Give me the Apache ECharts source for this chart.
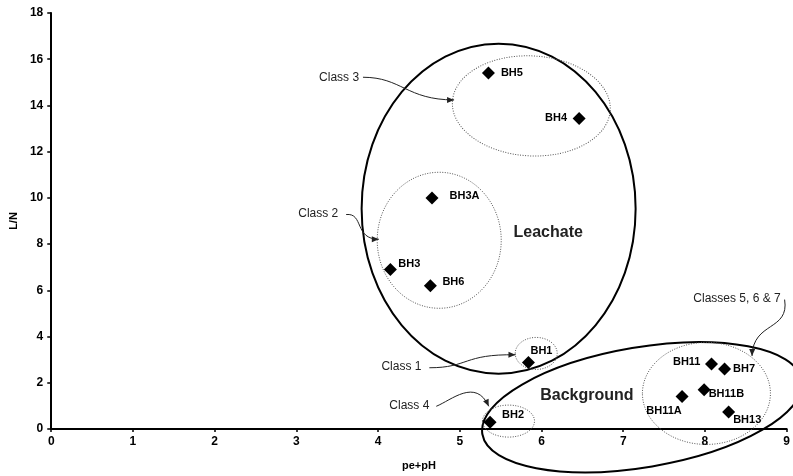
<!DOCTYPE html>
<html>
<head>
<meta charset="utf-8">
<script src="https://cdn.jsdelivr.net/npm/echarts@6/dist/echarts.min.js"></script>
<style>
html,body{margin:0;padding:0;background:#fff;}
#chart{width:793px;height:476px;}
</style>
</head>
<body>
<div id="chart"></div>
<script>
// ---- data ----
const pointNames = ['BH5','BH4','BH3A','BH3','BH6','BH1','BH2','BH11','BH7','BH11B','BH11A','BH13'];
const pePH       = [5.35, 6.46, 4.66, 4.15, 4.64, 5.84, 5.37, 8.08, 8.24, 7.99, 7.72, 8.29];
const lnRatio    = [15.40,13.44, 9.99, 6.90, 6.20, 2.88, 0.29, 2.81, 2.60, 1.70, 1.41, 0.74];
const xTicks = [0,1,2,3,4,5,6,7,8,9];
const yTicks = [0,2,4,6,8,10,12,14,16,18];

// ---- label placement (style, not data) ----
const labelPlace = {
  BH5:['right',[6,0]], BH4:['left',[-5.5,0]], BH3A:['right',[11,-2]], BH3:['right',[1.5,-6]],
  BH6:['right',[5.5,-4]], BH1:['right',[-4.5,-11.5]], BH2:['right',[5.5,-7]], BH11:['left',[-4.5,-2]],
  BH7:['right',[2,0]], BH11B:['right',[-2,4]], BH11A:['bottom',[-18,3]], BH13:['right',[-2,8]]
};

const FONT = '"Liberation Sans", Arial, sans-serif';

const chart = echarts.init(document.getElementById('chart'), null, {renderer:'canvas'});

const seriesData = pointNames.map((n,i)=>{
  const lp = labelPlace[n];
  return {
    name:n, value:[pePH[i], lnRatio[i]],
    label:{show:true, formatter:n, position:lp[0], distance:0, offset:lp[1]}
  };
});

const option = {
  animation:false,
  backgroundColor:'#fff',
  grid:{left:46, right:4, top:13, bottom:42, containLabel:false},
  xAxis:{
    type:'value', min:xTicks[0], max:xTicks[xTicks.length-1], interval:1,
    name:'pe+pH', nameLocation:'middle', nameGap:31,
    nameTextStyle:{fontFamily:FONT, fontWeight:'bold', fontSize:11, color:'#000'},
    axisLine:{show:true, onZero:false, lineStyle:{color:'#000', width:2}},
    axisTick:{show:true, length:3, lineStyle:{color:'#000', width:1.5}},
    axisLabel:{fontFamily:FONT, fontWeight:'bold', fontSize:12, color:'#000', margin:7},
    splitLine:{show:false}
  },
  yAxis:{
    type:'value', min:yTicks[0], max:yTicks[yTicks.length-1], interval:2,
    name:'L/N', nameLocation:'middle', nameGap:29, nameRotate:90,
    nameTextStyle:{fontFamily:FONT, fontWeight:'bold', fontSize:11, color:'#000'},
    axisLine:{show:true, onZero:false, lineStyle:{color:'#000', width:2}},
    axisTick:{show:true, length:4, lineStyle:{color:'#000', width:1.5}},
    axisLabel:{fontFamily:FONT, fontWeight:'bold', fontSize:12, color:'#000', margin:8},
    splitLine:{show:false}
  },
  series:[{
    type:'scatter', symbol:'diamond', symbolSize:13, z:5,
    itemStyle:{color:'#000', opacity:1},
    label:{fontFamily:FONT, fontWeight:'bold', fontSize:11, color:'#000'},
    data:seriesData
  }]
};
chart.setOption(option);

// ---- annotations (centres in data units, radii in px) ----
const ellipses = [
  {c:[5.475, 9.534], rx:137, ry:165, rot:0, solid:true},    // Leachate
  {c:[7.231, 0.941], rx:162, ry:60, rot:9.6, solid:true},   // Background
  {c:[5.875,13.98], rx:79, ry:50, rot:-3, solid:false},     // Class 3
  {c:[4.748, 8.166], rx:62, ry:68, rot:0, solid:false},     // Class 2
  {c:[5.935, 3.27], rx:21, ry:16, rot:0, solid:false},      // Class 1
  {c:[5.596, 0.342], rx:26, ry:16, rot:0, solid:false},     // Class 4
  {c:[8.018, 1.539], rx:64, ry:51, rot:0, solid:false}      // Classes 5,6,7
];
const arrows = [
  [[3.815,15.22],[4.288,15.22],[4.348,14.24],[4.930,14.24]],
  [[3.609,9.28],[3.827,9.36],[3.706,8.21],[4.009,8.21]],
  [[4.627,2.65],[5.111,2.65],[5.039,3.25],[5.681,3.21]],
  [[4.712,0.983],[4.893,1.24],[5.196,2.223],[5.354,0.983]],
  [[8.975,5.60],[9.036,4.23],[8.588,4.66],[8.576,3.16]]
];
const notes = [
  {t:'Class 3', p:[3.767,15.22], align:'right', size:12, bold:false},
  {t:'Class 2', p:[3.512,9.32], align:'right', size:12, bold:false},
  {t:'Class 1', p:[4.530,2.68], align:'right', size:12, bold:false},
  {t:'Class 4', p:[4.627,1.026], align:'right', size:12, bold:false},
  {t:'Classes 5, 6 & 7', p:[8.927,5.64], align:'right', size:12, bold:false},
  {t:'Leachate', p:[5.657,8.51], align:'left', size:16, bold:true},
  {t:'Background', p:[5.984,1.424], align:'left', size:16, bold:true}
];

const px = p => chart.convertToPixel({gridIndex:0}, p);
const graphics = [];
ellipses.forEach(e=>{
  const c = px(e.c);
  graphics.push({
    type:'ellipse', x:c[0], y:c[1], rotation:e.rot*Math.PI/180, z:3, silent:true,
    shape:{cx:0, cy:0, rx:e.rx, ry:e.ry},
    style:{fill:null, stroke:e.solid?'#000':'#555', lineWidth:e.solid?2:1,
           lineDash:e.solid?null:[1,1.5]}
  });
});
arrows.forEach(a=>{
  const P = a.map(px);
  graphics.push({
    type:'bezierCurve', z:3, silent:true,
    shape:{x1:P[0][0], y1:P[0][1], cpx1:P[1][0], cpy1:P[1][1], cpx2:P[2][0], cpy2:P[2][1], x2:P[3][0], y2:P[3][1]},
    style:{fill:null, stroke:'#222', lineWidth:1}
  });
  const dx = P[3][0]-P[2][0], dy = P[3][1]-P[2][1];
  const L = Math.hypot(dx,dy), ux = dx/L, uy = dy/L;
  const len = 7, hw = 3;
  const bx = P[3][0]-ux*len, by = P[3][1]-uy*len;
  graphics.push({
    type:'polygon', z:3, silent:true,
    shape:{points:[[P[3][0],P[3][1]],[bx-uy*hw, by+ux*hw],[bx+uy*hw, by-ux*hw]]},
    style:{fill:'#222'}
  });
});
notes.forEach(n=>{
  const p = px(n.p);
  graphics.push({
    type:'text', x:p[0], y:p[1], z:4, silent:true,
    style:{text:n.t, fill:'#222', font:(n.bold?'bold ':'')+n.size+'px '+FONT,
           textAlign:n.align, textVerticalAlign:'middle'}
  });
});
chart.setOption({graphic:graphics});
</script>
</body>
</html>
